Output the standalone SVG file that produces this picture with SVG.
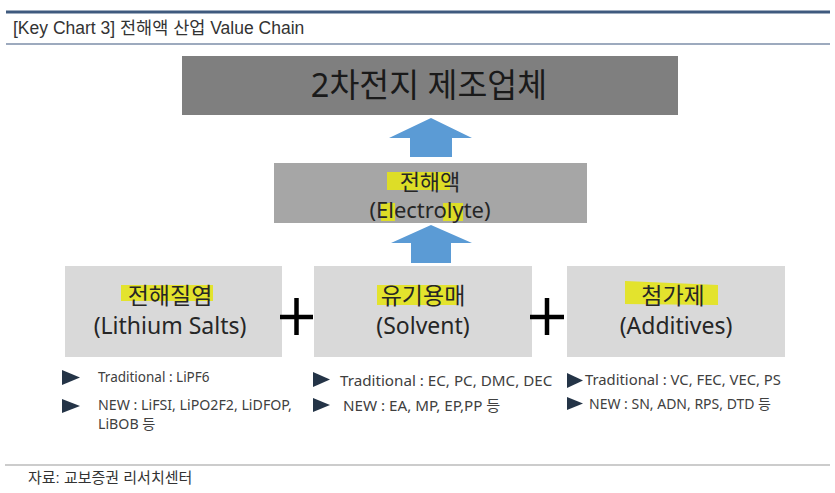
<svg xmlns="http://www.w3.org/2000/svg" width="835" height="493" viewBox="0 0 835 493">
<defs>
<style>
.hdr{font-family:"Liberation Sans","Noto Sans CJK KR",sans-serif;font-size:17.5px;fill:#333333;}
.src{font-family:"Liberation Sans","Noto Sans CJK KR",sans-serif;font-size:15px;fill:#333333;}
.big{font-family:"Noto Sans","Noto Sans CJK KR",sans-serif;font-size:32.5px;fill:#1a1a1a;text-anchor:middle;}
.lbl{font-family:"Noto Sans","Noto Sans CJK KR",sans-serif;font-size:22px;fill:#262626;text-anchor:middle;}
.blt{font-family:"Noto Sans","Noto Sans CJK KR",sans-serif;font-size:14.2px;fill:#404040;}
.hl{fill:#e3e31a;opacity:0.9;}
.arr{fill:#5b9bd5;}
.tri{fill:#243447;}
.plus{stroke:#000000;stroke-width:4.5;}
</style>
</defs>
<rect width="835" height="493" fill="#ffffff"/>
<!-- header -->
<line x1="6" y1="12" x2="830" y2="12" stroke="#3f5a7e" stroke-width="3"/>
<text class="hdr" x="13" y="34">[Key Chart 3] 전해액 산업 Value Chain</text>
<line x1="6" y1="44" x2="830" y2="44" stroke="#7d8ea8" stroke-width="1.5"/>

<g id="manufacturer">
<rect x="182" y="56" width="496" height="59" fill="#7f7f7f"/>
<text class="big" x="429" y="97">2차전지 제조업체</text>
</g>

<g id="electrolyte">
<rect x="274" y="163" width="313" height="60" fill="#a6a6a6"/>
<rect class="hl" x="387" y="172" width="63" height="18"/>
<rect class="hl" x="381" y="203" width="14" height="18"/>
<rect class="hl" x="443" y="203" width="20" height="18"/>
<text class="lbl" x="430" y="190">전해액</text>
<text class="lbl" x="430" y="218">(Electrolyte)</text>
</g>

<g id="salts">
<rect x="65" y="266" width="217" height="91" fill="#d9d9d9"/>
<rect class="hl" x="121" y="285" width="92" height="16"/>
<text class="lbl" x="170" y="304" style="font-size:23px">전해질염</text>
<text class="lbl" x="170" y="334" style="font-size:23px">(Lithium Salts)</text>
</g>

<g id="solvent">
<rect x="314" y="266" width="218" height="91" fill="#d9d9d9"/>
<rect class="hl" x="377" y="285" width="81" height="20"/>
<text class="lbl" x="423" y="304" style="font-size:23px">유기용매</text>
<text class="lbl" x="423" y="334" style="font-size:23px">(Solvent)</text>
</g>

<g id="additives">
<rect x="567" y="266" width="218" height="91" fill="#d9d9d9"/>
<polygon class="hl" points="625,281 718,285 718,305 625,304"/>
<text class="lbl" x="673" y="304" style="font-size:23px">첨가제</text>
<text class="lbl" x="676" y="334" style="font-size:23px">(Additives)</text>
</g>

<g id="connectors">
<polygon class="arr" points="431,118 472,138 452,138 452,157 410,157 410,138 389,138"/>
<polygon class="arr" points="431,225 472,243 451,243 451,263 411,263 411,243 391,243"/>
<line class="plus" x1="280" y1="317" x2="313" y2="317"/>
<line class="plus" x1="296.5" y1="298" x2="296.5" y2="335"/>
<line class="plus" x1="530" y1="317" x2="564" y2="317"/>
<line class="plus" x1="547" y1="298" x2="547" y2="335"/>
</g>

<g id="salts-notes">
<polygon class="tri" points="62,370 80,377.5 62,385"/>
<text class="blt" x="98" y="382" style="font-size:13.5px">Traditional : LiPF6</text>
<polygon class="tri" points="62,399 80,406 62,413"/>
<text class="blt" x="98" y="410">NEW : LiFSI, LiPO2F2, LiDFOP,</text>
<text class="blt" x="98" y="429">LiBOB 등</text>
</g>

<g id="solvent-notes">
<polygon class="tri" points="313,372 330,379.5 313,387"/>
<text class="blt" x="340" y="386" style="font-size:15.2px">Traditional : EC, PC, DMC, DEC</text>
<polygon class="tri" points="313,398 330,405 313,412"/>
<text class="blt" x="343" y="411" style="font-size:15.2px">NEW : EA, MP, EP,PP 등</text>
</g>

<g id="additives-notes">
<polygon class="tri" points="567,373 583,380.5 567,388"/>
<text class="blt" x="585" y="385" style="font-size:14.8px">Traditional : VC, FEC, VEC, PS</text>
<polygon class="tri" points="567,397 583,403.5 567,410"/>
<text class="blt" x="589" y="409" style="font-size:14px">NEW : SN, ADN, RPS, DTD 등</text>
</g>

<!-- footer -->
<line x1="5" y1="465" x2="830" y2="465" stroke="#cccccc" stroke-width="2"/>
<text class="src" x="28" y="483">자료: 교보증권 리서치센터</text>
</svg>
